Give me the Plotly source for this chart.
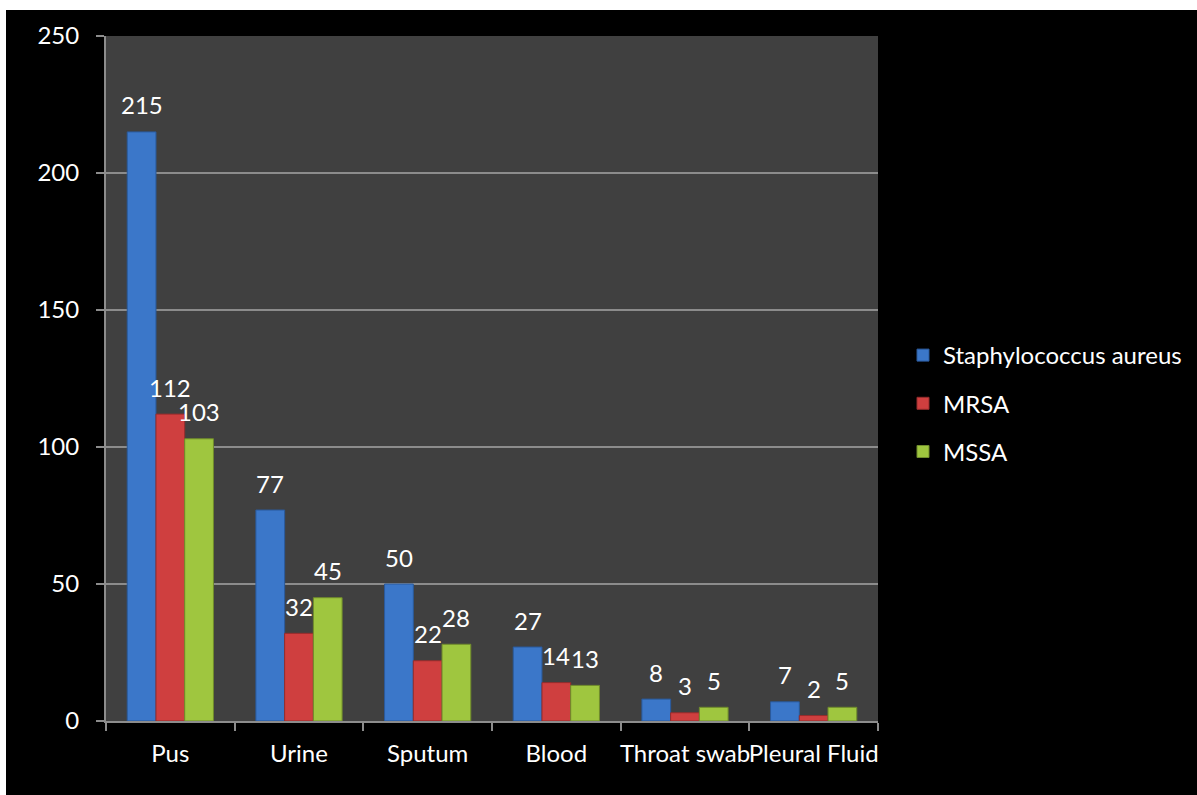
import plotly.graph_objects as go

categories = ["Pus", "Urine", "Sputum", "Blood", "Throat swab", "Pleural Fluid"]
staph_aureus = [215, 77, 50, 27, 8, 7]
mrsa = [112, 32, 22, 14, 3, 2]
mssa = [103, 45, 28, 13, 5, 5]
y_ticks = [0, 50, 100, 150, 200, 250]

series = [
    ("Staphylococcus aureus", staph_aureus, "#3b77c9", "#2a5a9c"),
    ("MRSA", mrsa, "#cf3f3f", "#952c2c"),
    ("MSSA", mssa, "#9fc63f", "#708c2c"),
]

FONT = "Lato, Carlito, 'Liberation Sans', sans-serif"
FS = 24

W, H = 1197, 795
ml, mr, mt, mb = 106, 319, 36, 74
pw, ph = W - ml - mr, H - mt - mb
BARGAP = 0.33

def px_x(p):
    return (p - ml) / pw

def px_y(p):
    return (H - mb - p) / ph

# pixel width of one bar inside a group, used to centre value labels over bars
cat_w = pw / len(categories)
bar_w = cat_w * (1 - BARGAP) / len(series)

fig = go.Figure()
annotations = []
for i, (name, vals, color, edge) in enumerate(series):
    fig.add_trace(go.Bar(
        x=categories, y=vals, name=name,
        marker=dict(color=color, line=dict(color=edge, width=1)),
        legendgroup=f"g{i}",
    ))
    shift = (i - (len(series) - 1) / 2) * bar_w
    for cat, v in zip(categories, vals):
        annotations.append(dict(
            x=cat, y=v, xref="x", yref="y", text=str(v), showarrow=False,
            xanchor="center", yanchor="middle", xshift=shift, yshift=27,
            font=dict(color="white", size=FS, family=FONT),
        ))

fig.update_layout(
    width=W, height=H,
    margin=dict(l=ml, r=mr, t=mt, b=mb, pad=0, autoexpand=False),
    paper_bgcolor="black",
    plot_bgcolor="#404040",
    barmode="group", bargap=BARGAP, bargroupgap=0,
    font=dict(family=FONT, color="white", size=FS),
    showlegend=True,
    legend=dict(
        x=px_x(903), y=px_y(333), xanchor="left", yanchor="top",
        font=dict(size=FS, color="white", family=FONT),
        bgcolor="rgba(0,0,0,0)", traceorder="grouped", tracegroupgap=14,
        itemwidth=30,
    ),
    xaxis=dict(
        showgrid=False, showline=True, linecolor="#8c8c8c", linewidth=2,
        ticks="outside", tickson="boundaries", ticklen=8, tickcolor="#8c8c8c",
        tickwidth=2, tickangle=0, tickfont=dict(size=FS, color="white"),
        ticklabelstandoff=10, range=[-0.5, 5.5],
    ),
    yaxis=dict(
        range=[0, 250], tickvals=y_ticks, showgrid=True, gridcolor="#8c8c8c",
        gridwidth=1.5, showline=True, linecolor="#8c8c8c", linewidth=2,
        ticks="outside", ticklen=8, tickcolor="#8c8c8c", tickwidth=2,
        tickfont=dict(size=FS, color="white"), zeroline=False,
        ticklabelstandoff=12,
    ),
    annotations=annotations,
    shapes=[
        dict(type="rect", xref="paper", yref="paper",
             x0=px_x(0), x1=px_x(6), y0=px_y(H), y1=px_y(0),
             fillcolor="white", line=dict(width=0), layer="above"),
        dict(type="rect", xref="paper", yref="paper",
             x0=px_x(0), x1=px_x(W), y0=px_y(10), y1=px_y(0),
             fillcolor="white", line=dict(width=0), layer="above"),
    ],
)

fig.write_html("out.html")
